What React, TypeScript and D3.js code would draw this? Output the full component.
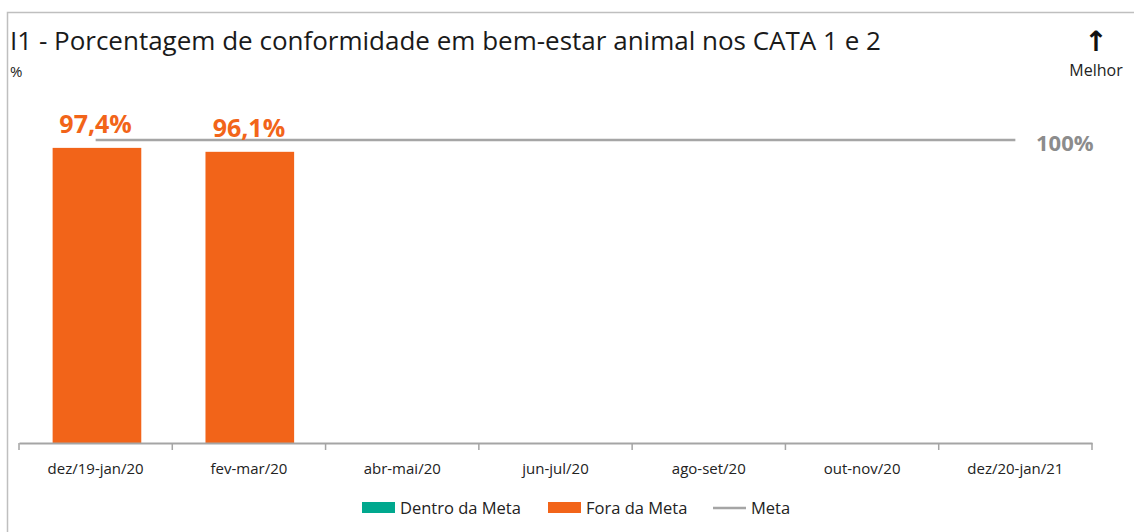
import React, { useEffect, useRef } from 'react';
import * as d3 from 'd3';

const categories = ['dez/19-jan/20', 'fev-mar/20', 'abr-mai/20', 'jun-jul/20', 'ago-set/20', 'out-nov/20', 'dez/20-jan/21'];
const foraDaMeta: (number | null)[] = [97.4, 96.1, null, null, null, null, null];
const dentroDaMeta: (number | null)[] = [null, null, null, null, null, null, null];
const meta = [100, 100, 100, 100, 100, 100, 100];
const legendItems = ['Dentro da Meta', 'Fora da Meta', 'Meta'];

const W = 1134;
const H = 532;
const ORANGE = '#F26419';
const TEAL = '#00A88E';
const GRAY = '#A5A5A5';
const FONT = '"Open Sans", "Noto Sans", sans-serif';

function App() {
  const svgRef = useRef<SVGSVGElement>(null);

  useEffect(() => {
    const svg = d3.select(svgRef.current);
    svg.selectAll('*').remove();

    // frame
    svg.append('rect')
      .attr('x', 7.5).attr('y', 12.5)
      .attr('width', W + 20).attr('height', H + 20)
      .attr('fill', 'white').attr('stroke', '#BFBFBF').attr('stroke-width', 1.5);

    const x = d3.scaleBand().domain(categories).range([19, 1092]).paddingInner(0.42).paddingOuter(0.22);
    const xc = d3.scaleBand().domain(categories).range([19, 1092]);
    const y = d3.scaleLinear().domain([0, 100]).range([443, 140]);

    // title
    svg.append('text')
      .attr('x', 10).attr('y', 50)
      .attr('font-family', FONT).attr('font-size', 26)
      .attr('fill', '#1a1a1a')
      .text('I1 - Porcentagem de conformidade em bem-estar animal nos CATA 1 e 2');

    svg.append('text')
      .attr('x', 10).attr('y', 77)
      .attr('font-family', FONT).attr('font-size', 15)
      .attr('fill', '#222')
      .text('%');

    // "melhor" arrow
    svg.append('text')
      .attr('x', 1096).attr('y', 51)
      .attr('text-anchor', 'middle')
      .attr('font-family', '"DejaVu Sans", sans-serif').attr('font-size', 28).attr('font-weight', 'bold')
      .attr('fill', '#111')
      .text('↑');
    svg.append('text')
      .attr('x', 1096).attr('y', 76)
      .attr('text-anchor', 'middle')
      .attr('font-family', FONT).attr('font-size', 16)
      .attr('fill', '#222')
      .text('Melhor');

    // bars
    svg.append('g').selectAll('rect.fora')
      .data(categories.map((c, i) => ({ c, v: foraDaMeta[i] })).filter(d => d.v != null))
      .join('rect')
      .attr('x', d => x(d.c)!)
      .attr('width', x.bandwidth())
      .attr('y', d => y(d.v!))
      .attr('height', d => y(0) - y(d.v!))
      .attr('fill', ORANGE);

    svg.append('g').selectAll('rect.dentro')
      .data(categories.map((c, i) => ({ c, v: dentroDaMeta[i] })).filter(d => d.v != null))
      .join('rect')
      .attr('x', d => x(d.c)!)
      .attr('width', x.bandwidth())
      .attr('y', d => y(d.v!))
      .attr('height', d => y(0) - y(d.v!))
      .attr('fill', TEAL);

    // meta line
    const line = d3.line<number>()
      .x((_, i) => xc(categories[i])! + xc.bandwidth() / 2)
      .y(d => y(d));
    svg.append('path')
      .datum(meta)
      .attr('d', line)
      .attr('fill', 'none')
      .attr('stroke', GRAY)
      .attr('stroke-width', 2.5);

    svg.append('text')
      .attr('x', 1036).attr('y', y(meta[meta.length - 1]) + 11)
      .attr('font-family', FONT).attr('font-size', 22).attr('font-weight', 'bold')
      .attr('fill', '#8C8C8C')
      .text(`${meta[meta.length - 1]}%`);

    // value labels
    svg.append('g').selectAll('text')
      .data(categories.map((c, i) => ({ c, v: foraDaMeta[i] })).filter(d => d.v != null))
      .join('text')
      .attr('x', d => xc(d.c)! + xc.bandwidth() / 2)
      .attr('y', d => y(d.v!) - 15)
      .attr('text-anchor', 'middle')
      .attr('font-family', FONT).attr('font-size', 25).attr('font-weight', 'bold')
      .attr('fill', ORANGE)
      .text(d => `${d.v!.toFixed(1).replace('.', ',')}%`);

    // x axis
    const axis = svg.append('g')
      .attr('transform', `translate(0,${y(0)})`)
      .call(d3.axisBottom(xc).tickSizeOuter(0).tickSize(0).tickPadding(20));
    axis.select('.domain').attr('stroke', GRAY).attr('stroke-width', 2);
    axis.selectAll('.tick text')
      .attr('font-family', FONT).attr('font-size', 15).attr('fill', '#222');
    const edges = categories.map(c => xc(c)!).concat([xc(categories[categories.length - 1])! + xc.bandwidth()]);
    axis.selectAll('line.edge')
      .data(edges)
      .join('line')
      .attr('x1', d => d).attr('x2', d => d)
      .attr('y1', 0).attr('y2', 7)
      .attr('stroke', GRAY).attr('stroke-width', 1.5);

    // legend
    const lg = svg.append('g').attr('transform', 'translate(362,508)');
    const lx = [0, 186, 351];
    legendItems.forEach((name, i) => {
      const g = lg.append('g').attr('transform', `translate(${lx[i]},0)`);
      if (i < 2) {
        g.append('rect').attr('x', 0).attr('y', -6).attr('width', 33).attr('height', 11)
          .attr('fill', i === 0 ? TEAL : ORANGE);
      } else {
        g.append('line').attr('x1', 0).attr('x2', 33).attr('y1', 0).attr('y2', 0)
          .attr('stroke', GRAY).attr('stroke-width', 2.5);
      }
      g.append('text')
        .attr('x', 38).attr('y', 6)
        .attr('font-family', FONT).attr('font-size', 16.5).attr('fill', '#222')
        .text(name);
    });
  }, []);

  return (
    <svg ref={svgRef} width={W} height={H} style={{ position: 'absolute', left: 0, top: 0, background: 'white' }} />
  );
}

export default App;
